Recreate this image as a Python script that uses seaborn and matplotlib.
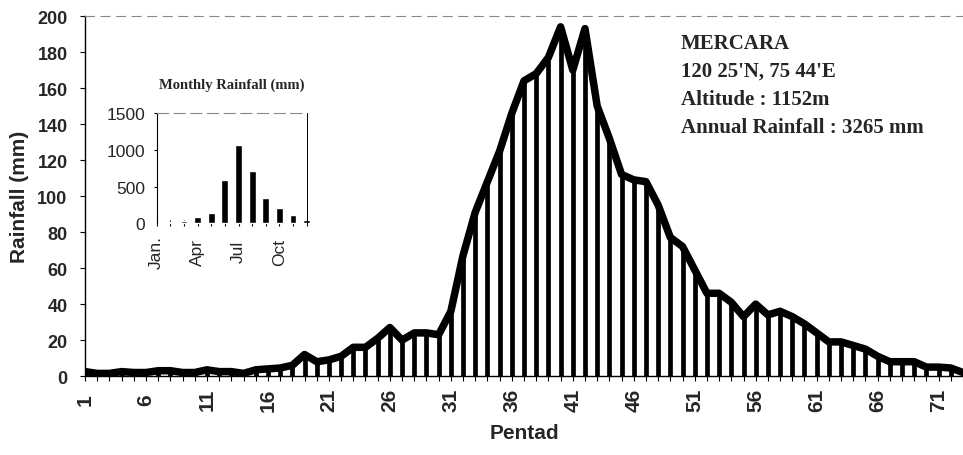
import numpy as np
import pandas as pd
import seaborn as sns
import matplotlib.pyplot as plt

####################################################################
# data
####################################################################
pentads = list(range(1, 74))
rainfall = [2.5, 1.5, 1.5, 2.5, 2, 2, 3, 3, 2, 2,
            3.5, 2.5, 2.5, 1.5, 3.5, 4, 4.5, 6, 12, 8,
            9, 11, 16, 16, 21, 27, 20, 24, 24, 23,
            36, 67, 91, 108, 125, 146, 164, 168, 177, 194,
            170, 193, 150, 132, 112, 109, 108, 95, 77, 72,
            59, 46, 46, 41, 33, 40, 34, 36, 33, 29,
            24, 19, 19, 17, 15, 11, 8, 8, 8, 5,
            5, 4.5, 2]
pentad_labels = [1, 6, 11, 16, 21, 26, 31, 36, 41, 46, 51, 56, 61, 66, 71]

months = ["Jan.", "Feb", "Mar", "Apr", "May", "Jun", "Jul", "Aug", "Sep", "Oct", "Nov", "Dec"]
monthly = [15, 20, 28, 82, 141, 595, 1068, 718, 345, 205, 114, 45]
month_labels = ["Jan.", "Apr", "Jul", "Oct"]

station_text = ["MERCARA", "120 25'N, 75 44'E", "Altitude : 1152m", "Annual Rainfall : 3265 mm"]

df = pd.DataFrame({"pentad": pentads, "rain": rainfall})
df_month = pd.DataFrame({"month": np.arange(len(months)), "rain": monthly})

sns.set_style("white")
plt.rcParams["font.family"] = ["Liberation Sans", "DejaVu Sans"]

fig = plt.figure(figsize=(9.63, 4.56), dpi=100)
ax = fig.add_axes([0.0883, 0.173, 0.9117, 0.7897])

# drop lines + thick line on top
ax.vlines(df["pentad"], 0, df["rain"], color="black", lw=3.4)
sns.lineplot(data=df, x="pentad", y="rain", color="black", lw=5.4, ax=ax)

ax.set_xlim(1, 73)
ax.set_ylim(0, 200)
ax.set_xticks(pentads)
ax.set_xticklabels([str(p) if p in pentad_labels else "" for p in pentads],
                   rotation=90, fontsize=15, fontweight="bold", va="center")
ax.set_yticks(range(0, 201, 20))
ax.set_yticklabels([str(v) for v in range(0, 201, 20)], fontsize=13, fontweight="bold")
ax.tick_params(axis="both", direction="out", length=3.6, width=0.8, color="black", bottom=True, left=True)
ax.tick_params(axis="x", pad=13)
ax.tick_params(axis="y", pad=9)
ax.set_xlabel("Pentad", fontsize=15, fontweight="bold", labelpad=9)
ax.set_ylabel("Rainfall (mm)", fontsize=15, fontweight="bold", labelpad=6)

for s in ["left", "bottom"]:
    ax.spines[s].set_color("black")
    ax.spines[s].set_linewidth(1.0)
ax.spines["right"].set_visible(False)
ax.spines["top"].set_color("#888888")
ax.spines["top"].set_linestyle((0, (8, 6)))
ax.spines["top"].set_linewidth(0.8)

# station info
for i, line in enumerate(station_text):
    fig.text(681 / 963, 1 - (44 + 28 * i) / 456, line, fontsize=15, fontweight="bold",
             family=["Liberation Serif", "DejaVu Serif"], va="center", ha="left")

####################################################################
# inset: monthly rainfall
####################################################################
ax2 = fig.add_axes([156.7 / 963, 1 - 224.3 / 456, 150 / 963, 110 / 456])
sns.barplot(data=df_month, x="month", y="rain", color="black", width=0.5,
            saturation=1, ax=ax2, native_scale=True)
for p in ax2.patches:
    p.set_clip_on(False)
ax2.set_xlim(0, 11)
ax2.set_ylim(0, 1500)
ax2.set_xticks(range(12))
ax2.set_xticklabels([m if m in month_labels else "" for m in months], rotation=90,
                    fontsize=12.5, va="center")
ax2.set_yticks([0, 500, 1000, 1500])
ax2.set_yticklabels(["0", "500", "1000", "1500"], fontsize=12.5)
ax2.tick_params(axis="x", direction="inout", length=4, width=0.8, color="black", bottom=True, pad=18)
ax2.tick_params(axis="y", direction="out", length=2.5, width=0.8, color="black", left=True, pad=6)
ax2.set_xlabel("")
ax2.set_ylabel("")
ax2.set_facecolor("none")
ax2.spines["left"].set_color("black")
ax2.spines["bottom"].set_visible(False)
ax2.spines["right"].set_color("black")
ax2.spines["right"].set_linewidth(0.7)
ax2.spines["top"].set_color("#888888")
ax2.spines["top"].set_linestyle((0, (10, 5)))
ax2.spines["top"].set_linewidth(0.8)
ax2.set_title("Monthly Rainfall (mm)", fontsize=10.5, fontweight="bold",
              family=["Liberation Serif", "DejaVu Serif"], pad=18)

fig.savefig("out.png", dpi=100)
